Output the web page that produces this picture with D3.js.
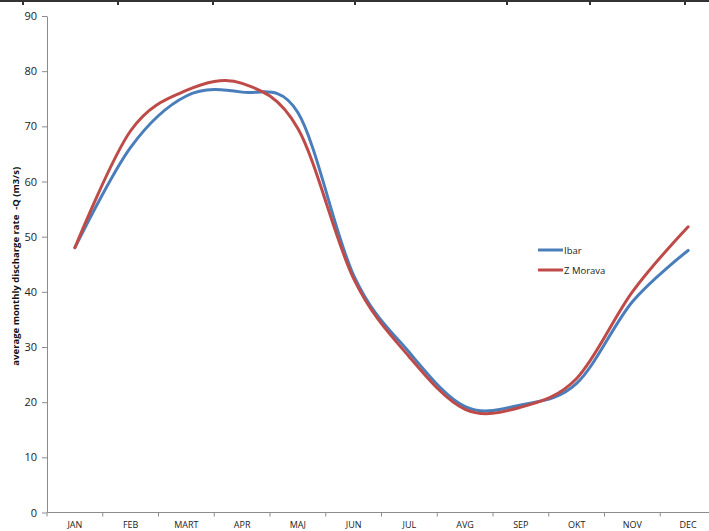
<!DOCTYPE html>
<html>
<head>
<meta charset="utf-8">
<script src="https://cdn.jsdelivr.net/npm/d3@7"></script>
<style>
  body { margin: 0; background: #fff; }
  svg { display: block; font-family: "Open Sans", "Liberation Sans", sans-serif; }
</style>
</head>
<body>
<svg id="chart"></svg>
<script>
const months = ["JAN", "FEB", "MART", "APR", "MAJ", "JUN", "JUL", "AVG", "SEP", "OKT", "NOV", "DEC"];
const ibar = [48.0, 66.2, 75.5, 76.2, 72.5, 43.0, 29.0, 19.2, 19.5, 23.4, 38.2, 47.5];
const zMorava = [48.0, 69.2, 76.5, 77.8, 69.6, 42.4, 28.2, 18.7, 19.1, 24.3, 40.0, 51.8];
const yTicks = [0, 10, 20, 30, 40, 50, 60, 70, 80, 90];
const seriesNames = ["Ibar", "Z Morava"];
const topTicks = [23, 118, 213, 355, 507, 590, 685];

const width = 709, height = 531;
const margin = { top: 16, right: -7, bottom: 18.5, left: 47 };

const svg = d3.select("#chart").attr("width", width).attr("height", height);

// table border across the top
svg.append("line")
  .attr("x1", 0).attr("x2", width).attr("y1", 1).attr("y2", 1)
  .attr("stroke", "#333").attr("stroke-width", 2);
svg.selectAll(".top-tick").data(topTicks).enter()
  .append("line")
  .attr("x1", d => d).attr("x2", d => d).attr("y1", 0).attr("y2", 5)
  .attr("stroke", "#333").attr("stroke-width", 2);

const xScale = d3.scaleBand()
  .domain(months)
  .range([margin.left, width - margin.right]);

const yScale = d3.scaleLinear()
  .domain([0, 90])
  .range([height - margin.bottom, margin.top]);

// y axis
const yAxisGroup = svg.append("g")
  .attr("transform", `translate(${margin.left},0)`)
  .call(d3.axisLeft(yScale).tickValues(yTicks).tickSize(5).tickSizeOuter(0));
yAxisGroup.select(".domain").attr("stroke", "#8c8c8c");
yAxisGroup.selectAll(".tick line").attr("stroke", "#8c8c8c");
yAxisGroup.selectAll("text")
  .attr("x", -10)
  .attr("font-size", 11)
  .attr("font-family", "\"Open Sans\", sans-serif")
  .attr("fill", "#222");

// x axis with ticks at the band edges
const xAxisGroup = svg.append("g")
  .attr("transform", `translate(0,${height - margin.bottom})`);
xAxisGroup.append("line")
  .attr("x1", margin.left).attr("x2", width)
  .attr("stroke", "#8c8c8c");
xAxisGroup.selectAll(".edge").data(months).enter()
  .append("line")
  .attr("x1", d => xScale(d)).attr("x2", d => xScale(d))
  .attr("y1", 0).attr("y2", 4)
  .attr("stroke", "#8c8c8c");
xAxisGroup.selectAll(".lbl").data(months).enter()
  .append("text")
  .attr("x", d => xScale(d) + xScale.bandwidth() / 2)
  .attr("y", 15)
  .attr("text-anchor", "middle")
  .attr("font-size", 9)
  .attr("fill", "#222")
  .text(d => d);

// y axis title
svg.append("text")
  .attr("transform", `translate(19,${(margin.top + height - margin.bottom) / 2 + 2}) rotate(-90)`)
  .attr("text-anchor", "middle")
  .attr("font-size", 9.5)
  .attr("font-weight", "bold")
  .attr("fill", "#111")
  .attr("xml:space", "preserve")
  .text("average monthly discharge rate  -Q (m3/s)");

const line = d3.line()
  .x((d, i) => xScale(months[i]) + xScale.bandwidth() / 2)
  .y(d => yScale(d))
  .curve(d3.curveCardinal.tension(0));

const series = [
  { name: seriesNames[0], values: ibar, color: "#4a7ebb" },
  { name: seriesNames[1], values: zMorava, color: "#be4b48" }
];

svg.selectAll(".series").data(series).enter()
  .append("path")
  .attr("d", d => line(d.values))
  .attr("fill", "none")
  .attr("stroke", d => d.color)
  .attr("stroke-width", 3)
  .attr("stroke-linejoin", "round")
  .attr("stroke-linecap", "round");

// legend
const legend = svg.append("g").attr("transform", "translate(538,250)");
const items = legend.selectAll("g").data(series).enter()
  .append("g")
  .attr("transform", (d, i) => `translate(0,${i * 20})`);
items.append("line")
  .attr("x1", 0).attr("x2", 25)
  .attr("stroke", d => d.color)
  .attr("stroke-width", 3);
items.append("text")
  .attr("x", 26).attr("y", 3.5)
  .attr("font-size", 9.5)
  .attr("fill", "#222")
  .text(d => d.name);
</script>
</body>
</html>
